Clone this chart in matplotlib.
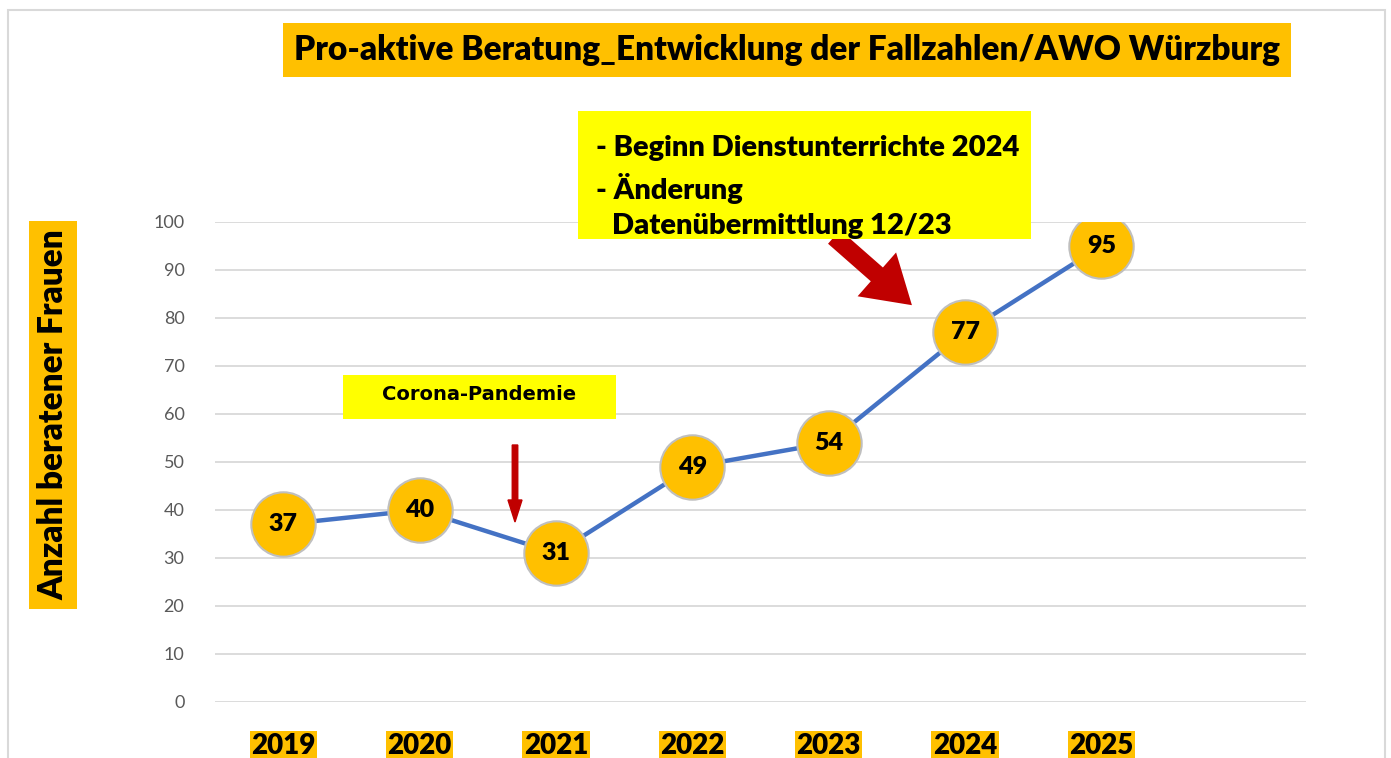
import matplotlib
matplotlib.use("Agg")
import matplotlib.pyplot as plt
from matplotlib.patches import Rectangle, FancyArrow, FancyArrowPatch

years = ["2019", "2020", "2021", "2022", "2023", "2024", "2025"]
faelle = [37, 40, 31, 49, 54, 77, 95]
y_ticks = [0, 10, 20, 30, 40, 50, 60, 70, 80, 90, 100]

ORANGE = "#FFC000"
YELLOW = "#FFFF00"
BLUE = "#4472C4"
DARKRED = "#C00000"

plt.rcParams["font.family"] = ["Lato", "DejaVu Sans"]

fig = plt.figure(figsize=(13.91, 7.58), dpi=100)
ax = fig.add_axes([215 / 1391, 1 - 702 / 758, (1306 - 215) / 1391, (702 - 222) / 758])

# Rahmen um das Diagramm
fig.patches.append(Rectangle((8 / 1391, -0.05), (1385 - 8) / 1391, 1.05 - 10 / 758,
                             transform=fig.transFigure, fill=False,
                             edgecolor="#D9D9D9", linewidth=1.5))

x = list(range(len(years)))
ax.plot(x, faelle, color=BLUE, linewidth=3.2, zorder=3)
ax.scatter(x, faelle, s=2150, color=ORANGE, edgecolor="#BFBFBF", linewidth=1.5, zorder=4)
for xi, v in zip(x, faelle):
    ax.text(xi, v, str(v), ha="center", va="center", fontsize=18,
            fontweight="heavy", color="black", zorder=5)

ax.set_xlim(-0.5, 7.5)
ax.set_ylim(0, 100)
ax.set_yticks(y_ticks)
ax.grid(axis="y", color="#D9D9D9", linewidth=1.3)
ax.set_axisbelow(True)
for s in ax.spines.values():
    s.set_visible(False)
ax.tick_params(axis="both", length=0)
ax.tick_params(axis="y", labelsize=13, labelcolor="#595959", pad=22)
ax.set_xticks(x)
ax.set_xticklabels(years, fontsize=20, fontweight="heavy")
ax.tick_params(axis="x", pad=22)
for lbl in ax.get_xticklabels():
    lbl.set_bbox(dict(facecolor=ORANGE, edgecolor="none", pad=1))

# Titel
fig.text(787 / 1391, 1 - 50 / 758,
         "Pro-aktive Beratung_Entwicklung der Fallzahlen/AWO Würzburg",
         ha="center", va="center", fontsize=24, fontweight="heavy",
         bbox=dict(facecolor=ORANGE, edgecolor="none", pad=8))

# Y-Achsentitel
fig.text(53 / 1391, 1 - 415 / 758, "Anzahl beratener Frauen", rotation=90,
         ha="center", va="center", fontsize=24, fontweight="heavy",
         bbox=dict(facecolor=ORANGE, edgecolor="none", pad=6))

# Hinweis 2024
fig.patches.append(Rectangle((578 / 1391, 1 - 239 / 758), (1031 - 578) / 1391, (239 - 111) / 758,
                             transform=fig.transFigure, facecolor=YELLOW, edgecolor="none"))
fig.text(596 / 1391, 1 - 148 / 758, "- Beginn Dienstunterrichte 2024",
         ha="left", va="center", fontsize=21, fontweight="heavy")
fig.text(596 / 1391, 1 - 189 / 758, "- Änderung",
         ha="left", va="center", fontsize=21, fontweight="heavy")
fig.text(612 / 1391, 1 - 226 / 758, "Datenübermittlung 12/23",
         ha="left", va="center", fontsize=21, fontweight="heavy")

# Corona-Hinweis
fig.patches.append(Rectangle((343 / 1391, 1 - 419 / 758), (616 - 343) / 1391, (419 - 375) / 758,
                             transform=fig.transFigure, facecolor=YELLOW, edgecolor="none"))
fig.text(479 / 1391, 1 - 394 / 758, "Corona-Pandemie", ha="center", va="center",
         fontsize=14, fontweight="bold", family="DejaVu Sans")

# Pfeile
fig.patches.append(FancyArrow(515 / 1391, 1 - 445 / 758, 0, -(522 - 445) / 758,
                              width=3 / 758, head_width=14 / 1391, head_length=22 / 758,
                              length_includes_head=True, transform=fig.transFigure,
                              color=DARKRED))
fig.add_artist(FancyArrowPatch(
    (832 / 1391, 1 - 235 / 758), (914 / 1391, 1 - 307 / 758),
    transform=fig.transFigure, arrowstyle="simple,head_width=3.5,head_length=2.8,tail_width=1.1",
    mutation_scale=12, color=DARKRED, linewidth=0))

fig.savefig("out.png", dpi=100)
